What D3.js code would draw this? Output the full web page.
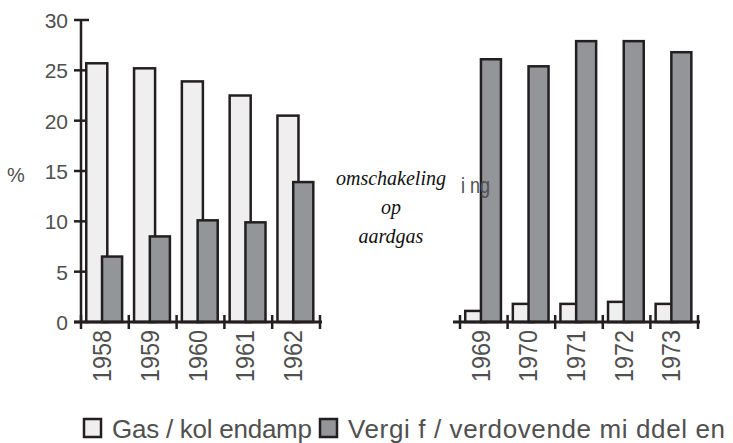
<!DOCTYPE html>
<html><head><meta charset="utf-8">
<script src="https://cdn.jsdelivr.net/npm/d3@7"></script>
<style>
html,body{margin:0;padding:0;background:#fff;}
svg{display:block;}
</style></head>
<body>
<svg id="chart" width="733" height="443"></svg>
<script>
const yearsLeft = ["1958","1959","1960","1961","1962"];
const yearsRight = ["1969","1970","1971","1972","1973"];
const gasLeft = [25.7, 25.2, 23.9, 22.5, 20.5];
const poisonLeft = [6.5, 8.5, 10.1, 9.9, 13.9];
const gasRight = [1.1, 1.8, 1.8, 2.0, 1.8];
const poisonRight = [26.1, 25.4, 27.9, 27.9, 26.8];
const yTicks = [0, 5, 10, 15, 20, 25, 30];
const seriesNames = ["Gas / kol endamp", "Vergi f / verdovende mi ddel en"];
const annotation = ["omschakeling", "op", "aardgas"];
const annotationExtra = "i ng";

const svg = d3.select("#chart");
const ink = "#231f20";
const colLight = "#efefef";
const colDark = "#939598";
const textCol = "#505050";
const sans = "'Liberation Sans', Arial, sans-serif";

const y = d3.scaleLinear().domain([0, 30]).range([322, 20]);
const xL = d3.scaleBand().domain(yearsLeft).range([81, 320]).padding(0);
const xR = d3.scaleBand().domain(yearsRight).range([460, 698]).padding(0);

// Y axis
const yAxis = d3.axisLeft(y).tickValues(yTicks).tickSize(0).tickPadding(13);
const gy = svg.append("g").attr("transform", "translate(81,0)").call(yAxis);
gy.select(".domain").remove();
gy.selectAll("text").style("font-family", sans)
  .style("font-size", "21px").attr("fill", textCol).attr("x", -13).attr("dy", "0.36em");
svg.append("line").attr("x1", 81).attr("x2", 81).attr("y1", y(30)).attr("y2", y(0))
  .attr("stroke", ink).attr("stroke-width", 2.5);
svg.append("g").selectAll("line").data(yTicks).join("line")
  .attr("x1", 74).attr("x2", 89).attr("y1", d => y(d)).attr("y2", d => y(d))
  .attr("stroke", ink).attr("stroke-width", 2.5);

svg.append("text").attr("x", 7).attr("y", 182)
  .style("font-family", sans).style("font-size", "20px")
  .attr("fill", textCol).text("%");

function panel(x, years, gas, poison) {
  const bw = x.bandwidth();
  const g = svg.append("g");
  g.selectAll("rect.light").data(years).join("rect").attr("class", "light")
    .attr("x", (d) => x(d) + bw * 0.11).attr("width", bw * 0.44)
    .attr("y", (d, i) => y(gas[i])).attr("height", (d, i) => y(0) - y(gas[i]))
    .attr("fill", colLight).attr("stroke", ink).attr("stroke-width", 2.5);
  g.selectAll("rect.dark").data(years).join("rect").attr("class", "dark")
    .attr("x", (d) => x(d) + bw * 0.44).attr("width", bw * 0.42)
    .attr("y", (d, i) => y(poison[i])).attr("height", (d, i) => y(0) - y(poison[i]))
    .attr("fill", colDark).attr("stroke", ink).attr("stroke-width", 2.5);
  // x axis
  const r = x.range();
  g.append("line").attr("x1", r[0] - 7).attr("x2", r[1] + 2).attr("y1", y(0)).attr("y2", y(0))
    .attr("stroke", ink).attr("stroke-width", 3);
  const bounds = years.map(d => x(d)).concat([r[1]]);
  g.selectAll("line.tk").data(bounds).join("line").attr("class", "tk")
    .attr("x1", d => d).attr("x2", d => d).attr("y1", y(0) - 7).attr("y2", y(0) + 7)
    .attr("stroke", ink).attr("stroke-width", 2.5);
  g.selectAll("text.yr").data(years).join("text").attr("class", "yr")
    .attr("transform", d => `translate(${x(d) + bw / 2 + 6},${y(0) + 8}) rotate(-90)`)
    .attr("text-anchor", "end")
    .style("font-family", sans).style("font-size", "25px")
    .attr("textLength", 52).attr("lengthAdjust", "spacingAndGlyphs")
    .attr("fill", textCol).text(d => d);
}
panel(xL, yearsLeft, gasLeft, poisonLeft);
panel(xR, yearsRight, gasRight, poisonRight);

// annotation
const serif = "'Liberation Serif', 'Times New Roman', serif";
const ann = svg.append("g").attr("text-anchor", "middle");
[[annotation[0], 185], [annotation[1], 214], [annotation[2], 243]].forEach(([t, yy]) => {
  ann.append("text").attr("x", 391).attr("y", yy)
    .style("font-family", serif).style("font-style", "italic").style("font-size", "20px")
    .attr("fill", "#111").text(t);
});
svg.append("text").attr("x", 461).attr("y", 193)
  .style("font-family", sans).style("font-size", "22px")
  .attr("textLength", 29).attr("lengthAdjust", "spacingAndGlyphs")
  .attr("fill", textCol).text(annotationExtra);

// legend
const leg = svg.append("g");
leg.append("rect").attr("x", 84).attr("y", 419).attr("width", 17).attr("height", 18)
  .attr("fill", colLight).attr("stroke", ink).attr("stroke-width", 2.5);
leg.append("text").attr("x", 112).attr("y", 438)
  .style("font-family", sans).style("font-size", "26px").attr("fill", textCol)
  .attr("textLength", 200).attr("lengthAdjust", "spacing").text(seriesNames[0]);
leg.append("rect").attr("x", 320).attr("y", 419).attr("width", 17).attr("height", 18)
  .attr("fill", colDark).attr("stroke", ink).attr("stroke-width", 2.5);
leg.append("text").attr("x", 348).attr("y", 438)
  .style("font-family", sans).style("font-size", "26px").attr("fill", textCol)
  .attr("textLength", 377).attr("lengthAdjust", "spacing").text(seriesNames[1]);
</script>
</body></html>
